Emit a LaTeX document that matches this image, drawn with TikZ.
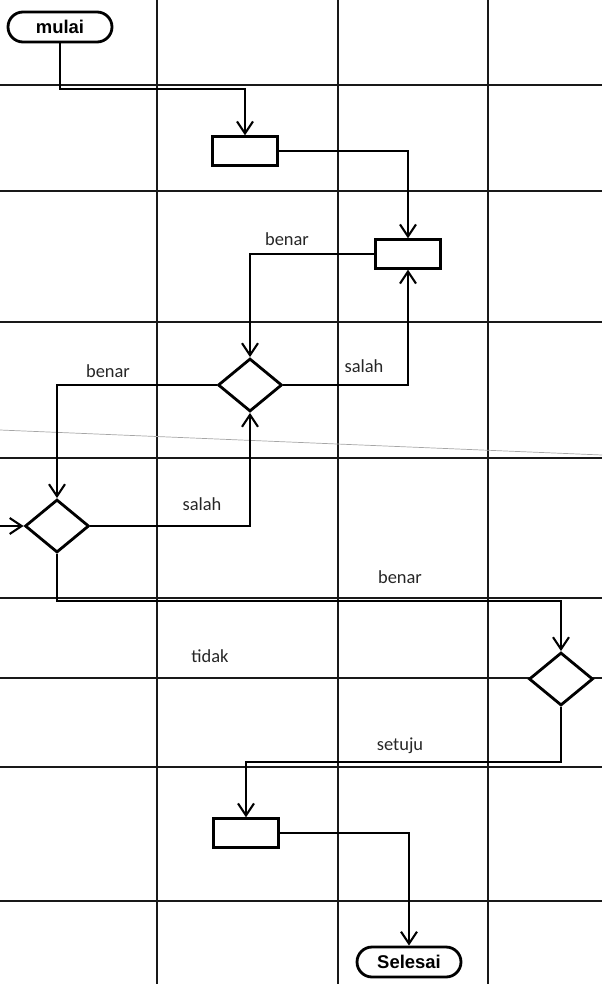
\documentclass[tikz,border=0pt]{standalone}
\usepackage{fontspec}
\setmainfont{Carlito}
\newfontfamily\termfont{Liberation Sans}
\usetikzlibrary{arrows.meta,shapes.geometric}

\begin{document}
\begin{tikzpicture}[
  x=0.02cm, y=-0.02cm,
  lane/.style={line width=1.4pt, black!90},
  term/.style={draw, fill=white, line width=1.6pt, rounded corners=0.3cm, inner sep=0pt,
               font=\termfont\bfseries\fontsize{10.5}{12}\selectfont,
               minimum width=2.08cm, minimum height=0.6cm},
  act/.style={draw, fill=white, line width=1.6pt, inner sep=0pt,
              minimum width=1.3cm, minimum height=0.57cm},
  dec/.style={draw, fill=white, diamond, line width=1.6pt, inner sep=0pt,
              minimum width=1.28cm, minimum height=1.06cm},
  lbl/.style={font=\fontsize{10.5}{12}\selectfont, text=black!85},
  arr/.style={line width=1.2pt, -{Straight Barb[length=2.4mm,width=3.2mm]}}]
\useasboundingbox (0,0) rectangle (602,984);
% swimlane grid
\foreach \gx in {157,338,488}
  \draw[lane] (\gx,0) -- (\gx,984);
\foreach \gy in {85,191,322,458,598,678,767,901}
  \draw[lane] (0,\gy) -- (602,\gy);
\draw[black!35, line width=0.4pt] (0,430) -- (602,455);

\node[term] (mulai) at (60,27) {mulai};
\node[act] (box1) at (245,151) {};
\node[act] (box2) at (408,254) {};
\node[dec] (dec1) at (250,385) {};
\node[dec] (dec2) at (57,526) {};
\node[dec] (dec3) at (561,679) {};
\node[act] (box3) at (246,833) {};
\node[term] (selesai) at (409,962) {Selesai};

\node[lbl] (lbBenarA) at (287,239) {benar};
\node[lbl] (lbSalahA) at (364,366) {salah};
\node[lbl] (lbBenarB) at (108,371) {benar};
\node[lbl] (lbSalahB) at (202,504) {salah};
\node[lbl] (lbBenarC) at (400,577) {benar};
\node[lbl] (lbTidak) at (210,656) {tidak};
\node[lbl] (lbSetuju) at (400,746) {setuju};

\coordinate (kA) at (0,89);
\coordinate (kB) at (0,601);
\coordinate (kC) at (0,762);
\coordinate (inL) at (0,526);

\draw[arr] (mulai.south) -- (mulai.south |- kA) -| (box1.north);
\foreach \a/\b in {box1.east/box2.north,box2.west/dec1.north,dec1.east/box2.south,
                   dec1.west/dec2.north,dec2.east/dec1.south,box3.east/selesai.north}
  \draw[arr] (\a) -| (\b);
\draw[arr] (inL) -- (dec2.west);
\draw[arr] (dec2.south) -- (dec2.south |- kB) -| (dec3.north);
\draw[arr] (dec3.south) -- (dec3.south |- kC) -| (box3.north);
\end{tikzpicture}
\end{document}
